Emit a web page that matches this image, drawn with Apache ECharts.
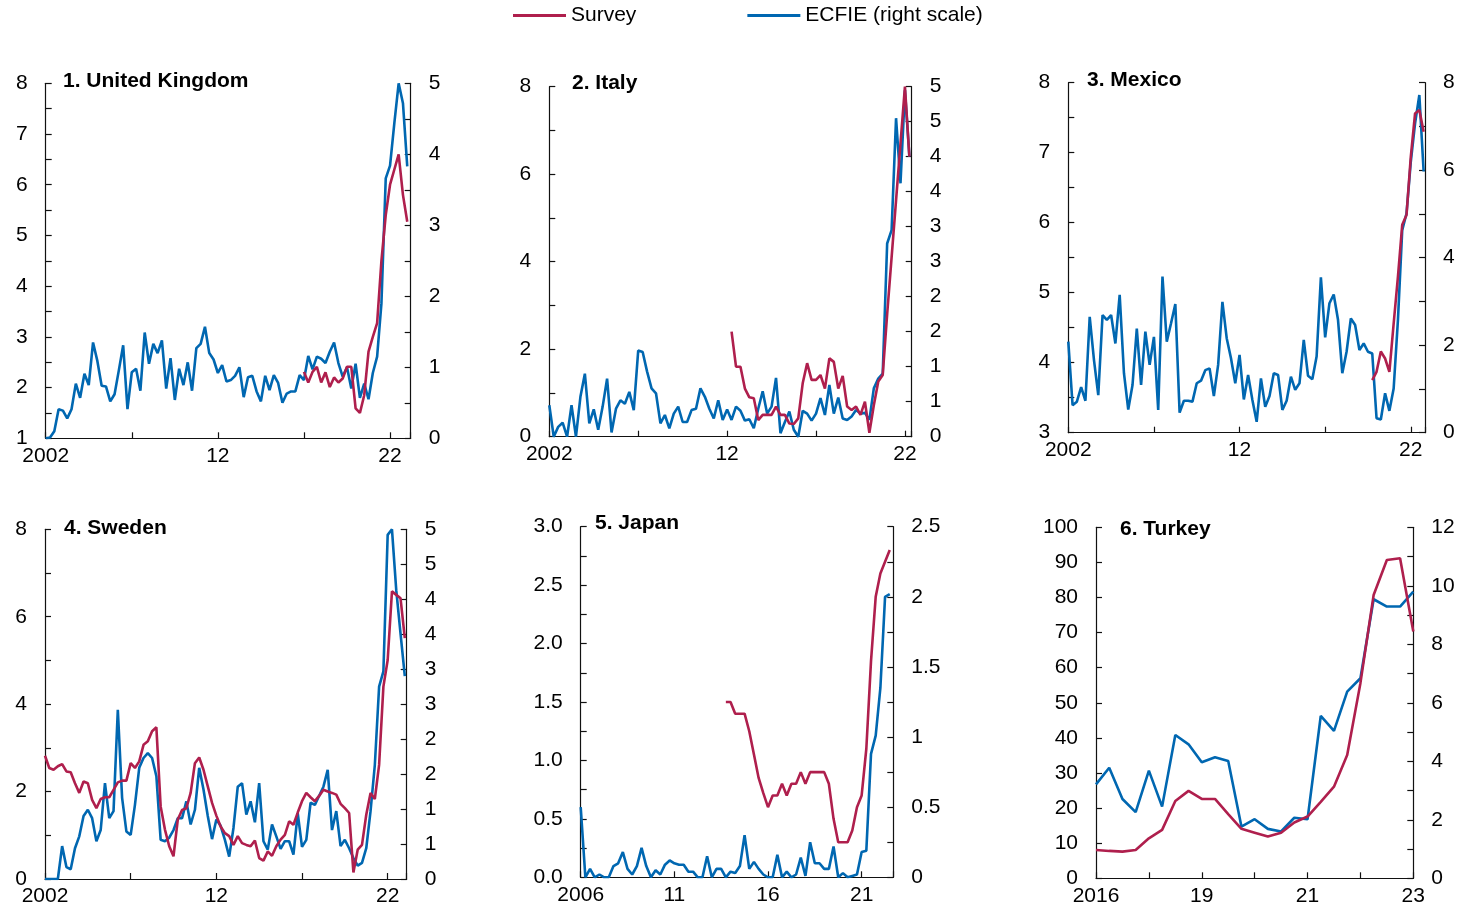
<!DOCTYPE html>
<html>
<head>
<meta charset="utf-8">
<title>Survey and ECFIE inflation expectations</title>
<script src="https://cdn.jsdelivr.net/npm/echarts@6/dist/echarts.min.js"></script>
<style>
  html, body { margin: 0; padding: 0; background: #fff; }
  #chart { width: 1460px; height: 907px; }
</style>
</head>
<body>
<div id="chart"></div>
<script>
// ---- Data (quarterly series unless noted) ----
const seriesNames = ['Survey', 'ECFIE (right scale)'];

// 1. United Kingdom: ECFIE from 2002Q1, survey from 2017Q1
const ukEcfieStart = 2002;
const ukEcfie = [0, 0.01, 0.1, 0.41, 0.39, 0.28, 0.41, 0.77, 0.57, 0.91,
  0.75, 1.35, 1.09, 0.74, 0.73, 0.52, 0.62, 0.96, 1.31, 0.41,
  0.93, 0.98, 0.67, 1.49, 1.05, 1.33, 1.2, 1.38, 0.7, 1.13,
  0.54, 0.98, 0.75, 1.07, 0.67, 1.27, 1.33, 1.57, 1.2, 1.11,
  0.92, 1.03, 0.8, 0.82, 0.88, 1.0, 0.58, 0.86, 0.88, 0.66,
  0.52, 0.88, 0.68, 0.89, 0.78, 0.5, 0.63, 0.66, 0.66, 0.89,
  0.82, 1.16, 0.97, 1.15, 1.12, 1.06, 1.22, 1.35, 1.06, 0.87,
  1.0, 0.7, 1.05, 0.57, 0.77, 0.55, 0.92, 1.15, 1.9, 3.66,
  3.84, 4.44, 5.0, 4.72, 3.83];
const ukSurveyStart = 2017;
const ukSurvey = [2.31, 2.10, 2.31, 2.41, 2.10, 2.30, 2.01, 2.20, 2.10, 2.18,
  2.41, 2.41, 1.59, 1.50, 1.85, 2.71, 3.0, 3.27, 4.5, 5.4,
  6.0, 6.3, 6.6, 5.8, 5.27];

// 2. Italy: ECFIE from 2002Q1, survey from 2012Q2
const itEcfieStart = 2002;
const itEcfie = [0.45, 0, 0.14, 0.2, 0, 0.45, 0, 0.57, 0.9, 0.19,
  0.39, 0.1, 0.43, 0.83, 0.06, 0.4, 0.52, 0.47, 0.64, 0.38,
  1.23, 1.21, 0.93, 0.69, 0.62, 0.19, 0.31, 0.12, 0.33, 0.43,
  0.21, 0.21, 0.38, 0.4, 0.69, 0.57, 0.4, 0.26, 0.52, 0.24,
  0.39, 0.24, 0.43, 0.37, 0.23, 0.25, 0.12, 0.4, 0.65, 0.33,
  0.43, 0.84, 0.05, 0.21, 0.36, 0.1, 0, 0.37, 0.33, 0.23,
  0.33, 0.55, 0.31, 0.74, 0.33, 0.56, 0.26, 0.24, 0.29, 0.38,
  0.33, 0.34, 0.24, 0.69, 0.83, 0.9, 2.76, 2.95, 4.55, 3.62,
  4.95, 4.0];
const itSurveyStart = 2012.25;
const itSurvey = [2.4, 1.6, 1.6, 1.1, 0.9, 0.88, 0.38, 0.5, 0.5, 0.5,
  0.69, 0.5, 0.5, 0.3, 0.29, 0.42, 1.22, 1.68, 1.3, 1.3,
  1.41, 1.1, 1.79, 1.71, 1.1, 1.39, 0.69, 0.61, 0.69, 0.5,
  0.8, 0.09, 0.72, 1.26, 1.41, 2.8, 4.1, 5.4, 6.7, 8.0,
  6.4];

// 3. Mexico: ECFIE from 2002Q1, survey from 2019Q4
const mxEcfieStart = 2002;
const mxEcfie = [2.08, 0.63, 0.71, 1.04, 0.73, 2.65, 1.66, 0.86, 2.69, 2.58,
  2.69, 2.04, 3.15, 1.36, 0.53, 1.09, 2.38, 1.09, 2.31, 1.55,
  2.19, 0.52, 3.57, 2.08, 2.5, 2.94, 0.46, 0.73, 0.73, 0.71,
  1.13, 1.19, 1.43, 1.47, 0.84, 1.55, 2.99, 2.16, 1.7, 1.13,
  1.78, 0.76, 1.32, 0.75, 0.25, 1.24, 0.59, 0.84, 1.36, 1.32,
  0.52, 0.73, 1.28, 0.98, 1.13, 2.12, 1.3, 1.22, 1.74, 3.55,
  2.18, 2.96, 3.16, 2.58, 1.36, 1.85, 2.61, 2.46, 1.89, 2.04,
  1.85, 1.81, 0.33, 0.3, 0.9, 0.5, 1.01, 2.58, 4.63, 5.01,
  6.19, 7.07, 7.72, 5.97];
const mxSurveyStart = 2019.75;
const mxSurvey = [3.75, 3.87, 4.16, 4.06, 3.87, 4.56, 5.23, 5.97, 6.11, 6.94,
  7.56, 7.61, 7.3];

// 4. Sweden: both from 2002Q1
const seEcfieStart = 2002;
const seEcfie = [0, 0, 0, 0, 0.47, 0.17, 0.14, 0.44, 0.61, 0.9,
  0.99, 0.87, 0.54, 0.7, 1.37, 0.87, 0.97, 2.42, 1.16, 0.68,
  0.63, 1.06, 1.59, 1.73, 1.8, 1.73, 1.47, 0.56, 0.54, 0.59,
  0.7, 0.87, 0.87, 1.11, 0.78, 0.99, 1.59, 1.28, 0.9, 0.57,
  0.85, 0.76, 0.56, 0.32, 0.73, 1.32, 1.37, 0.92, 1.11, 0.81,
  1.37, 0.54, 0.42, 0.78, 0.61, 0.43, 0.54, 0.54, 0.35, 0.94,
  0.46, 0.56, 1.09, 1.06, 1.19, 1.32, 1.56, 0.7, 0.97, 0.47,
  0.56, 0.44, 0.3, 0.19, 0.23, 0.44, 0.97, 1.63, 2.75, 2.97,
  4.92, 5.0, 4.13, 3.51, 2.9];
const seSurveyStart = 2002;
const seSurvey = [2.82, 2.54, 2.5, 2.58, 2.63, 2.46, 2.44, 2.19, 1.97, 2.23,
  2.19, 1.81, 1.62, 1.83, 1.87, 1.87, 2.04, 2.21, 2.25, 2.25,
  2.65, 2.54, 2.69, 3.07, 3.15, 3.38, 3.47, 1.66, 1.13, 0.75,
  0.52, 1.36, 1.58, 1.62, 1.97, 2.65, 2.78, 2.5, 2.12, 1.74,
  1.45, 1.2, 1.05, 0.98, 0.78, 0.98, 0.82, 0.78, 0.75, 0.88,
  0.48, 0.42, 0.63, 0.53, 0.75, 0.9, 1.01, 1.32, 1.24, 1.52,
  1.78, 1.97, 1.87, 1.78, 1.9, 2.04, 2.0, 1.97, 1.93, 1.72,
  1.62, 1.51, 0.15, 0.67, 0.78, 1.47, 1.97, 1.83, 2.61, 4.4,
  5.01, 6.58, 6.5, 6.42, 5.51];

// 5. Japan: ECFIE from 2006Q1, survey from 2013Q4
const jpEcfieStart = 2006;
const jpEcfie = [0.5, 0, 0.06, 0, 0.02, 0, 0, 0.08, 0.1, 0.18,
  0.06, 0.02, 0.08, 0.21, 0.08, 0, 0.05, 0.02, 0.09, 0.12,
  0.1, 0.09, 0.09, 0.04, 0.04, 0, 0, 0.15, 0, 0.06,
  0.06, 0, 0.04, 0.03, 0.08, 0.3, 0.06, 0.11, 0.06, 0.02,
  0, 0, 0.16, 0, 0.04, 0, 0.02, 0.14, 0.01, 0.25,
  0.1, 0.1, 0.06, 0.06, 0.22, 0, 0.03, 0, 0.01, 0.02,
  0.18, 0.19, 0.88, 1.01, 1.35, 2.0, 2.02];
const jpSurveyStart = 2013.75;
const jpSurvey = [1.5, 1.5, 1.4, 1.4, 1.4, 1.25, 1.05, 0.85, 0.72, 0.6,
  0.7, 0.7, 0.8, 0.7, 0.8, 0.8, 0.9, 0.8, 0.9, 0.9,
  0.9, 0.9, 0.8, 0.5, 0.3, 0.3, 0.3, 0.4, 0.6, 0.7,
  1.1, 1.85, 2.4, 2.6, 2.7, 2.8];

// 6. Turkey: survey rounds, category axis
const trPeriods = ['2016', '', '', '', '', '', '', '', '19', '', '', '', '',
  '', '', '', '21', '', '', '', '', '', '', '', '23'];
const trEcfie = [3.21, 3.78, 2.71, 2.26, 3.68, 2.45, 4.9, 4.58, 3.97, 4.14,
  4.01, 1.77, 2.02, 1.69, 1.6, 2.07, 2.02, 5.55, 5.04, 6.38,
  6.84, 9.54, 9.29, 9.29, 9.8];
const trSurvey = [8.07, 7.8, 7.6, 8.07, 11.4, 13.8, 22.0, 24.9, 22.6, 22.6,
  18.3, 14.1, 13.0, 11.9, 13.0, 15.9, 17.6, 21.8, 26.1, 35.1,
  55.6, 80.7, 90.7, 91.2, 70.3];

// Panel titles
const titles = ['1. United Kingdom', '2. Italy', '3. Mexico', '4. Sweden', '5. Japan', '6. Turkey'];

// Year tick labels on the time axes
const yearTicks2002 = [2002, 2012, 2022];
const yearLabels2002 = ['2002', '12', '22'];
const yearTicks2006 = [2006, 2011, 2016, 2021];
const yearLabels2006 = ['2006', '11', '16', '21'];

// Value-axis tick labels, one entry per tick ('' = unlabelled tick)
const ukLeftLabels = ['1', '', '2', '', '3', '', '4', '', '5', '', '6', '', '7', '', '8'];
const ukRightLabels = ['0', '', '1', '', '2', '', '3', '', '4', '', '5'];
const evenTo8Labels = ['0', '', '2', '', '4', '', '6', '', '8'];
const halfTo5Labels = ['0', '1', '1', '2', '2', '3', '3', '4', '4', '5', '5'];
const mxLeftLabels = ['3', '', '4', '', '5', '', '6', '', '7', '', '8'];
const jpLeftLabels = ['0.0', '', '0.5', '', '1.0', '', '1.5', '', '2.0', '', '2.5', '', '3.0'];
const jpRightLabels = ['0', '', '0.5', '', '1', '', '1.5', '', '2', '', '2.5'];
const trLeftLabels = ['0', '10', '20', '30', '40', '50', '60', '70', '80', '90', '100'];
const trRightLabels = ['0', '', '2', '', '4', '', '6', '', '8', '', '10', '', '12'];

// ---- Styling and layout ----
const FONT = '"Liberation Sans", Arial, Helvetica, sans-serif';
const RED = '#AF1F4D';
const BLUE = '#0067B1';
const AXIS = '#111';
const FS = 21;

const grids = [
  { left: 45.7, top: 83.3, width: 365, height: 355 },
  { left: 549.3, top: 86.7, width: 362.4, height: 350 },
  { left: 1068.3, top: 82.7, width: 356.7, height: 350 },
  { left: 45, top: 529.3, width: 361.7, height: 350 },
  { left: 580.7, top: 526.7, width: 312.6, height: 350.6 },
  { left: 1096, top: 527.3, width: 317.3, height: 351 }
];
const titlePos = [
  { left: 63, top: 71 }, { left: 572, top: 73 }, { left: 1087, top: 69.5 },
  { left: 64, top: 517.5 }, { left: 595, top: 513 }, { left: 1120, top: 518.5 }
];

function quarterly(start, values) {
  return values.map((v, i) => [start + i * 0.25, v]);
}

function yearAxis(gridIndex, min, max, ticks, labels) {
  return {
    type: 'value', gridIndex, min, max, interval: 5,
    axisLine: { show: true, onZero: false, lineStyle: { color: AXIS, width: 1.2 } },
    axisTick: { show: true, inside: true, length: 6, lineStyle: { color: AXIS, width: 1.2 } },
    splitLine: { show: false },
    axisLabel: {
      margin: 7, fontSize: FS, color: '#000', fontFamily: FONT,
      formatter: v => {
        const i = ticks.findIndex(t => Math.abs(t - v) < 1e-6);
        return i >= 0 ? labels[i] : '';
      }
    }
  };
}

function valueAxis(gridIndex, position, min, max, interval, labels) {
  return {
    type: 'value', gridIndex, position, min, max, interval,
    axisLine: { show: true, onZero: false, lineStyle: { color: AXIS, width: 1.2 } },
    axisTick: { show: true, inside: true, length: 6, lineStyle: { color: AXIS, width: 1.2 } },
    splitLine: { show: false },
    axisLabel: {
      margin: 18, fontSize: FS, color: '#000', fontFamily: FONT,
      formatter: v => {
        const s = labels[Math.round((v - min) / interval)];
        return s === undefined ? '' : s;
      }
    }
  };
}

const xAxes = [
  yearAxis(0, 2002, 2023.2, yearTicks2002, yearLabels2002),
  yearAxis(1, 2002, 2022.38, yearTicks2002, yearLabels2002),
  yearAxis(2, 2002, 2022.83, yearTicks2002, yearLabels2002),
  yearAxis(3, 2002, 2023.11, yearTicks2002, yearLabels2002),
  yearAxis(4, 2006, 2022.69, yearTicks2006, yearLabels2006),
  {
    type: 'category', gridIndex: 5, data: trPeriods, boundaryGap: false,
    axisLine: { show: true, onZero: false, lineStyle: { color: AXIS, width: 1.2 } },
    axisTick: { show: true, inside: true, length: 6, interval: 3, lineStyle: { color: AXIS, width: 1.2 } },
    splitLine: { show: false },
    axisLabel: { interval: 0, margin: 7, fontSize: FS, color: '#000', fontFamily: FONT }
  }
];

const yAxes = [
  valueAxis(0, 'left', 1, 8, 0.5, ukLeftLabels),
  valueAxis(0, 'right', 0, 5, 0.5, ukRightLabels),
  valueAxis(1, 'left', 0, 8, 1, evenTo8Labels),
  valueAxis(1, 'right', 0, 5, 0.5, halfTo5Labels),
  valueAxis(2, 'left', 3, 8, 0.5, mxLeftLabels),
  valueAxis(2, 'right', 0, 8, 1, evenTo8Labels),
  valueAxis(3, 'left', 0, 8, 1, evenTo8Labels),
  valueAxis(3, 'right', 0, 5, 0.5, halfTo5Labels),
  valueAxis(4, 'left', 0, 3, 0.25, jpLeftLabels),
  valueAxis(4, 'right', 0, 2.5, 0.25, jpRightLabels),
  valueAxis(5, 'left', 0, 100, 10, trLeftLabels),
  valueAxis(5, 'right', 0, 12, 1, trRightLabels)
];

const panelData = [
  [quarterly(ukSurveyStart, ukSurvey), quarterly(ukEcfieStart, ukEcfie)],
  [quarterly(itSurveyStart, itSurvey), quarterly(itEcfieStart, itEcfie)],
  [quarterly(mxSurveyStart, mxSurvey), quarterly(mxEcfieStart, mxEcfie)],
  [quarterly(seSurveyStart, seSurvey), quarterly(seEcfieStart, seEcfie)],
  [quarterly(jpSurveyStart, jpSurvey), quarterly(jpEcfieStart, jpEcfie)],
  [trSurvey, trEcfie]
];

// ECFIE drawn first, survey line on top of it
const series = [];
panelData.forEach((pair, p) => {
  series.push({
    name: seriesNames[0], type: 'line', xAxisIndex: p, yAxisIndex: 2 * p,
    data: pair[0], symbol: 'none', z: 3,
    lineStyle: { color: RED, width: 2.6 }, itemStyle: { color: RED }
  });
  series.push({
    name: seriesNames[1], type: 'line', xAxisIndex: p, yAxisIndex: 2 * p + 1,
    data: pair[1], symbol: 'none', z: 2,
    lineStyle: { color: BLUE, width: 2.6 }, itemStyle: { color: BLUE }
  });
});

const chart = echarts.init(document.getElementById('chart'), null, { renderer: 'canvas' });
chart.setOption({
  animation: false,
  backgroundColor: '#fff',
  textStyle: { fontFamily: FONT },
  title: titles.map((t, i) => ({
    text: t, left: titlePos[i].left, top: titlePos[i].top, padding: 0,
    textStyle: { fontSize: FS, fontWeight: 'bold', color: '#000', fontFamily: FONT }
  })),
  legend: {
    data: seriesNames, left: 513, top: 5, padding: 0, icon: 'rect',
    itemWidth: 53, itemHeight: 3, itemGap: 111, selectedMode: false,
    textStyle: { fontSize: FS, color: '#000', fontFamily: FONT }
  },
  grid: grids,
  xAxis: xAxes,
  yAxis: yAxes,
  series
});
</script>
</body>
</html>
